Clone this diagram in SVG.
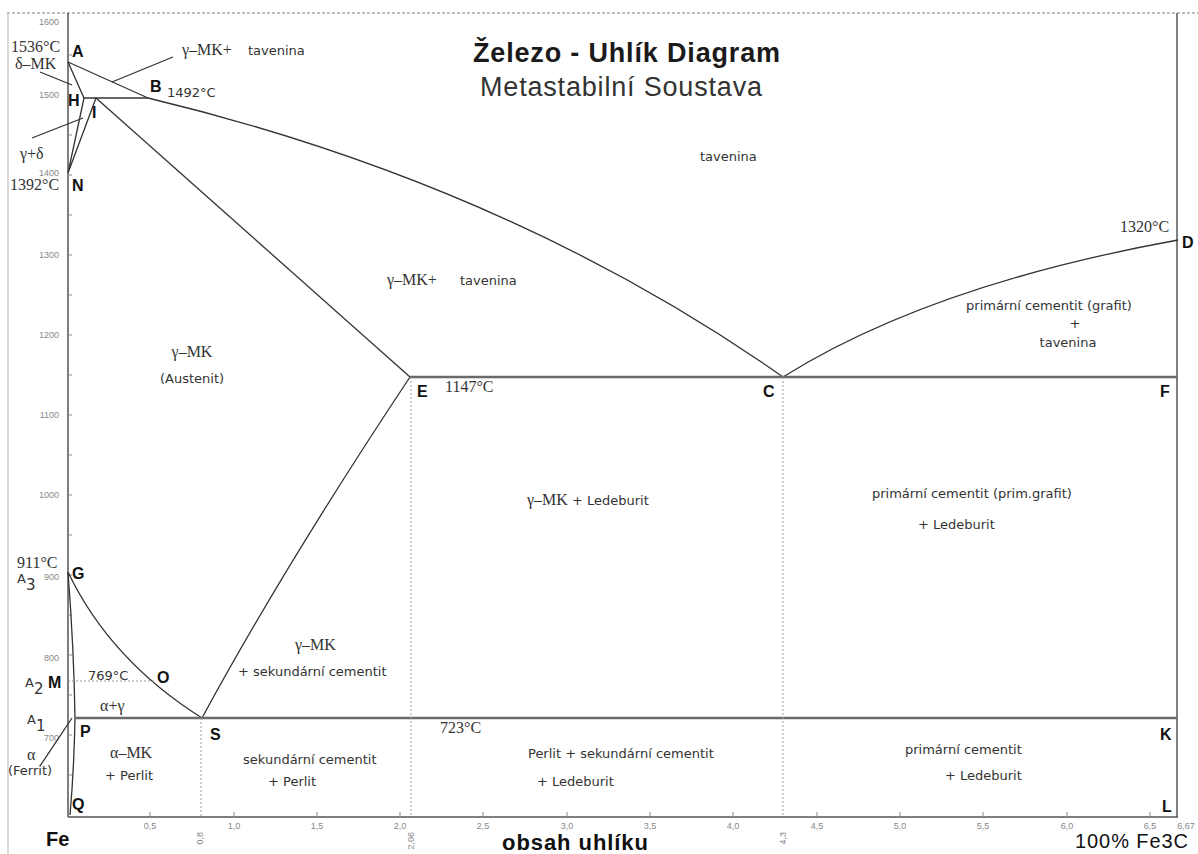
<svg xmlns="http://www.w3.org/2000/svg" width="1198" height="854" viewBox="0 0 1198 854">
<style>
.bg{fill:#fff}
.ln{fill:none;stroke:#333;stroke-width:1.3}
.iso{fill:none;stroke:#6a6a6a;stroke-width:2.4}
.dot{fill:none;stroke:#999;stroke-width:1;stroke-dasharray:2 2}
.ax{fill:none;stroke:#555;stroke-width:1.5}
.tk{fill:none;stroke:#888;stroke-width:1}
.pt{font-family:"Liberation Sans","DejaVu Sans",sans-serif;font-weight:bold;font-size:16px;fill:#111}
.s{font-family:"DejaVu Sans","Liberation Sans",sans-serif;font-size:13px;fill:#333}
.r{font-family:"Liberation Serif","DejaVu Serif",serif;font-size:16px;fill:#333}
.n{font-family:"Liberation Sans","DejaVu Sans",sans-serif;font-size:9px;fill:#888}
</style>
<rect class="bg" x="0" y="0" width="1198" height="854"/>
<g id="frame">
<line x1="7" y1="13" x2="1198" y2="13" stroke="#aaa" stroke-width="1.5" stroke-dasharray="3 2"/>
<line x1="8" y1="13" x2="8" y2="854" stroke="#ccc" stroke-width="1.5"/>
<line class="ax" x1="68" y1="13" x2="68" y2="817"/>
<line class="ax" x1="68" y1="817" x2="1178" y2="817"/>
<line class="ax" x1="1177" y1="13" x2="1177" y2="817"/>
</g>
<g id="ticks">
<path class="tk" d="M68 55h4M68 95h4M68 135h4M68 175h4M68 215h4M68 255h4M68 295h4M68 335h4M68 375h4M68 415h4M68 455h4M68 495h4M68 535h4M68 575h4M68 615h4M68 655h4M68 695h4M68 735h4M68 775h4"/>
<path class="tk" d="M150 817v-5M234 817v-5M317 817v-5M400 817v-5M483 817v-5M567 817v-5M650 817v-5M733 817v-5M817 817v-5M900 817v-5M983 817v-5M1067 817v-5M1150 817v-5"/>
<g class="n" text-anchor="end">
<text x="59" y="25">1600</text><text x="59" y="98">1500</text><text x="59" y="176">1400</text>
<text x="59" y="258">1300</text><text x="59" y="338">1200</text><text x="59" y="418">1100</text>
<text x="59" y="498">1000</text><text x="59" y="580">900</text><text x="59" y="661">800</text><text x="59" y="741">700</text>
</g>
<g class="n" text-anchor="middle">
<text x="150" y="829">0,5</text><text x="234" y="829">1,0</text><text x="317" y="829">1,5</text>
<text x="400" y="829">2,0</text><text x="483" y="829">2,5</text><text x="567" y="829">3,0</text>
<text x="650" y="829">3,5</text><text x="733" y="829">4,0</text><text x="817" y="829">4,5</text>
<text x="900" y="829">5,0</text><text x="983" y="829">5,5</text><text x="1067" y="829">6,0</text>
<text x="1150" y="829">6,5</text><text x="1186" y="829">6,67</text>
<text transform="translate(203 832) rotate(-90)" text-anchor="end">0,8</text>
<text transform="translate(414 832) rotate(-90)" text-anchor="end">2,06</text>
<text transform="translate(786 832) rotate(-90)" text-anchor="end">4,3</text>
</g>
</g>
<g id="connectors">
<path class="ln" d="M68 62L84 98L148 98"/>
<path class="ln" d="M68 62L148 98Q510 185 783 377"/>
<path class="ln" d="M84 98L68 173M96 98L68 173"/>
<path class="ln" d="M96 98L410 377"/>
<path class="ln" d="M410 377Q285 565 202 718"/>
<path class="ln" d="M68 572Q110 660 202 718"/>
<path class="ln" d="M783 377Q930 285 1178 240"/>
<path class="ln" d="M68 572Q74 650 75 718Q74 770 70 815" stroke-width="1.8"/>
<line class="iso" x1="410" y1="377" x2="1177" y2="377"/>
<line class="iso" x1="75" y1="718" x2="1177" y2="718"/>
<line class="dot" x1="68" y1="681" x2="155" y2="681"/>
<line class="dot" x1="201" y1="718" x2="201" y2="817"/>
<line class="dot" x1="411" y1="377" x2="411" y2="817"/>
<line class="dot" x1="783" y1="377" x2="783" y2="817"/>
<path class="ln" d="M173 57L112 82"/>
<path class="ln" d="M40 72L72 85"/>
<path class="ln" d="M32 138L83 118"/>
<path class="ln" d="M40 766L72 718" stroke-width="2"/>
</g>
<g id="title">
<text x="473" y="62" font-family="Liberation Sans,DejaVu Sans,sans-serif" font-weight="bold" font-size="27" fill="#1a1a1a" textLength="307">Železo - Uhlík Diagram</text>
<text x="480" y="96" font-family="Liberation Sans,DejaVu Sans,sans-serif" font-size="27" fill="#333" textLength="282">Metastabilní Soustava</text>
</g>
<g id="points">
<text class="pt" x="72" y="57">A</text>
<text class="pt" x="150" y="92">B</text>
<text class="pt" x="68" y="106">H</text>
<text class="pt" x="92" y="118">I</text>
<text class="pt" x="72" y="191">N</text>
<text class="pt" x="72" y="579">G</text>
<text class="pt" x="48" y="688">M</text>
<text class="pt" x="157" y="683">O</text>
<text class="pt" x="80" y="737">P</text>
<text class="pt" x="210" y="740" font-size="17">S</text>
<text class="pt" x="72" y="810">Q</text>
<text class="pt" x="417" y="397">E</text>
<text class="pt" x="763" y="397">C</text>
<text class="pt" x="1160" y="397">F</text>
<text class="pt" x="1160" y="740">K</text>
<text class="pt" x="1162" y="812">L</text>
<text class="pt" x="1182" y="248">D</text>
</g>
<g id="labels">
<text class="r" x="11" y="52" font-size="15">1536°C</text>
<text class="r" x="15" y="69" font-size="14.5">δ–MK</text>
<text x="182" y="55"><tspan class="r" font-size="17">γ–MK+</tspan><tspan class="s" x="248" font-size="14">tavenina</tspan></text>
<text class="s" x="167" y="97" font-size="13.5">1492°C</text>
<text class="r" x="20" y="159">γ+δ</text>
<text class="r" x="10" y="190">1392°C</text>
<text class="s" x="700" y="161" font-size="14">tavenina</text>
<text class="r" x="1120" y="232">1320°C</text>
<text x="387" y="285"><tspan class="r" font-size="17">γ–MK+</tspan><tspan class="s" x="460" font-size="14">tavenina</tspan></text>
<text class="s" x="1049" y="310" text-anchor="middle">primární cementit (grafit)</text>
<text class="s" x="1075" y="328" text-anchor="middle">+</text>
<text class="s" x="1068" y="347" text-anchor="middle">tavenina</text>
<text class="r" x="192" y="357" text-anchor="middle" font-size="17">γ–MK</text>
<text class="s" x="192" y="383" text-anchor="middle">(Austenit)</text>
<text class="r" x="445" y="392">1147°C</text>
<text x="527" y="505"><tspan class="r">γ–MK</tspan><tspan class="s" font-size="15"> + Ledeburit</tspan></text>
<text class="s" x="872" y="498" font-size="12.5">primární cementit (prim.grafit)</text>
<text class="s" x="918" y="529" font-size="16">+ Ledeburit</text>
<text class="r" x="17" y="568">911°C</text>
<text class="s" x="17" y="583" font-size="16">A<tspan dy="7" font-size="15">3</tspan></text>
<text class="r" x="295" y="650" font-size="17">γ–MK</text>
<text class="s" x="238" y="676" font-size="13.3">+ sekundární cementit</text>
<text class="s" x="25" y="687" font-size="16">A<tspan dy="7" font-size="15">2</tspan></text>
<text class="s" x="88" y="680" font-size="14.5">769°C</text>
<text class="r" x="100" y="711">α+γ</text>
<text class="s" x="27" y="724" font-size="16">A<tspan dy="7" font-size="15">1</tspan></text>
<text class="r" x="440" y="733" font-size="17">723°C</text>
<text class="r" x="27" y="760">α</text>
<text class="s" x="8" y="775" font-size="15.5">(Ferrit)</text>
<text class="r" x="110" y="758" font-size="17">α–MK</text>
<text class="s" x="105" y="780" font-size="15.5">+ Perlit</text>
<text class="s" x="243" y="764" font-size="12.5">sekundární cementit</text>
<text class="s" x="268" y="786" font-size="16">+ Perlit</text>
<text x="528" y="758"><tspan class="s" font-size="18">Perlit</tspan><tspan class="s" font-size="10.5"> + sekundární cementit</tspan></text>
<text class="s" x="537" y="786" font-size="15.5">+ Ledeburit</text>
<text class="s" x="905" y="754">primární cementit</text>
<text class="s" x="945" y="780" font-size="14.5">+ Ledeburit</text>
<text x="46" y="846" font-family="Liberation Sans,DejaVu Sans,sans-serif" font-weight="bold" font-size="20" fill="#111">Fe</text>
<text x="502" y="850" font-family="Liberation Sans,DejaVu Sans,sans-serif" font-weight="bold" font-size="22" fill="#111" textLength="146">obsah uhlíku</text>
<text x="1075" y="848" font-family="Liberation Sans,DejaVu Sans,sans-serif" font-size="20" fill="#111" textLength="113">100% Fe3C</text>
</g>
</svg>
